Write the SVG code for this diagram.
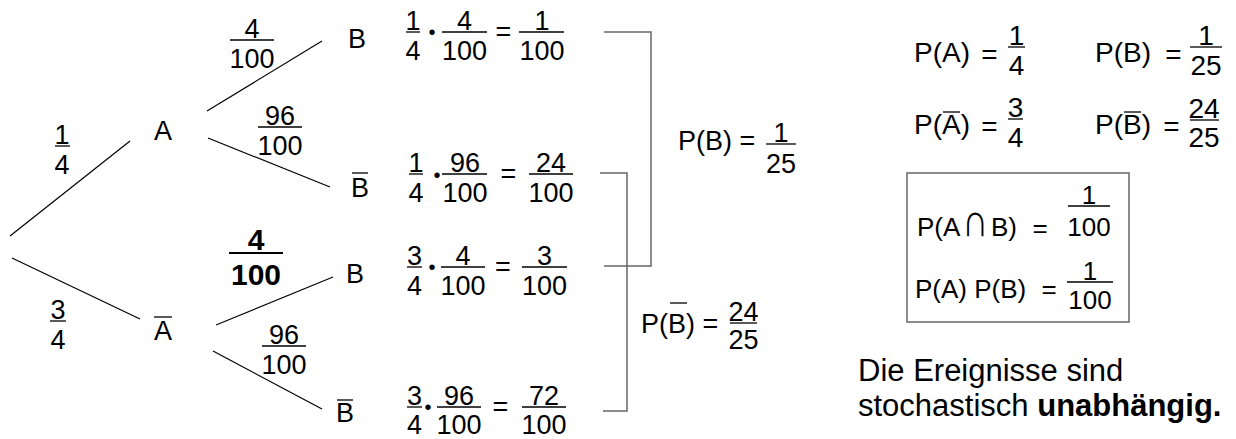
<svg xmlns="http://www.w3.org/2000/svg" width="1236" height="439" viewBox="0 0 1236 439">
  <style>
    text { font-family: "Liberation Sans", Arial, sans-serif; font-size: 27px; fill: #000; }
    .c { text-anchor: middle; }
    .r { font-size: 28px; }
    .bx { font-size: 26px; }
    .big { font-size: 31px; }
    .bold { font-weight: bold; }
    .cap { font-size: 26px; text-anchor: middle; }
    .dot { font-size: 20px; text-anchor: middle; }
    .fr { stroke: #000; stroke-width: 1.3; }
    .edge { stroke: #000; stroke-width: 1.2; fill: none; }
    .brk { stroke: #666; stroke-width: 1.5; fill: none; }
  </style>

  <!-- connectors: tree branches and summing brackets -->
  <g id="connectors">
    <line class="edge" x1="10" y1="236" x2="130" y2="141"/>
    <line class="edge" x1="12" y1="258" x2="140" y2="319"/>
    <line class="edge" x1="207" y1="111" x2="322" y2="41"/>
    <line class="edge" x1="208" y1="138" x2="330" y2="187"/>
    <line class="edge" x1="216" y1="325" x2="333" y2="277"/>
    <line class="edge" x1="213" y1="351" x2="322" y2="409"/>
    <path class="brk" d="M604,32 H651 V266 H604"/>
    <path class="brk" d="M600,173 H627 V411 H603"/>
  </g>

  <!-- branch probabilities -->
  <g id="branch-labels">
    <text class="c" x="62" y="144">1</text><line class="fr" x1="55" y1="146" x2="70" y2="146"/><text class="c" x="62" y="174">4</text>
    <text class="c" x="58" y="319">3</text><line class="fr" x1="50" y1="321" x2="66" y2="321"/><text class="c" x="58" y="349">4</text>
    <text class="c" x="252" y="38">4</text><line class="fr" x1="230" y1="40" x2="274" y2="40"/><text class="c" x="252" y="68">100</text>
    <text class="c" x="280" y="125">96</text><line class="fr" x1="258" y1="127" x2="302" y2="127"/><text class="c" x="280" y="155">100</text>
    <text class="c bold" style="font-size:30px" x="256" y="250">4</text><line class="fr" style="stroke-width:2" x1="229" y1="253" x2="283" y2="253"/><text class="c bold" style="font-size:30px" x="256" y="285">100</text>
    <text class="c" x="284" y="344">96</text><line class="fr" x1="262" y1="346" x2="306" y2="346"/><text class="c" x="284" y="374">100</text>
  </g>

  <!-- event nodes -->
  <g id="node-A"><text class="c" x="163" y="140">A</text></g>
  <g id="node-Abar"><text class="c" x="163" y="340">A</text><line class="fr" x1="154" y1="317" x2="172" y2="317"/></g>
  <g id="node-AB"><text class="c" x="357" y="48">B</text></g>
  <g id="node-ABbar"><text class="c" x="360" y="197">B</text><line class="fr" x1="352" y1="173" x2="368" y2="173"/></g>
  <g id="node-AbarB"><text class="c" x="355" y="283">B</text></g>
  <g id="node-AbarBbar"><text class="c" x="345" y="422">B</text><line class="fr" x1="337" y1="400" x2="353" y2="400"/></g>

  <!-- path products -->
  <g id="product-AB">
    <text class="c" x="413" y="30">1</text><line class="fr" x1="406" y1="32" x2="420" y2="32"/><text class="c" x="413" y="60">4</text>
    <text class="dot" x="432" y="39">•</text>
    <text class="c" x="464.5" y="30">4</text><line class="fr" x1="442" y1="32" x2="487" y2="32"/><text class="c" x="464.5" y="60">100</text>
    <text class="c" x="503.5" y="41">=</text>
    <text class="c" x="542" y="30">1</text><line class="fr" x1="519" y1="32" x2="564" y2="32"/><text class="c" x="542" y="60">100</text>
  </g>
  <g id="product-ABbar">
    <text class="c" x="416" y="172">1</text><line class="fr" x1="409" y1="174" x2="423" y2="174"/><text class="c" x="416" y="202">4</text>
    <text class="dot" x="437" y="182">•</text>
    <text class="c" x="465" y="172">96</text><line class="fr" x1="442" y1="174" x2="487" y2="174"/><text class="c" x="465" y="202">100</text>
    <text class="c" x="508.5" y="183">=</text>
    <text class="c" x="551" y="172">24</text><line class="fr" x1="529" y1="174" x2="573" y2="174"/><text class="c" x="551" y="202">100</text>
  </g>
  <g id="product-AbarB">
    <text class="c" x="414.5" y="265">3</text><line class="fr" x1="407" y1="267" x2="422" y2="267"/><text class="c" x="414.5" y="295">4</text>
    <text class="dot" x="432" y="274">•</text>
    <text class="c" x="463" y="265">4</text><line class="fr" x1="441" y1="267" x2="485" y2="267"/><text class="c" x="463" y="295">100</text>
    <text class="c" x="503" y="276">=</text>
    <text class="c" x="544.5" y="265">3</text><line class="fr" x1="522" y1="267" x2="567" y2="267"/><text class="c" x="544.5" y="295">100</text>
  </g>
  <g id="product-AbarBbar">
    <text class="c" x="414.5" y="405">3</text><line class="fr" x1="407" y1="407" x2="422" y2="407"/><text class="c" x="414.5" y="434">4</text>
    <text class="dot" x="428" y="414">•</text>
    <text class="c" x="459" y="405">96</text><line class="fr" x1="437" y1="407" x2="481" y2="407"/><text class="c" x="459" y="434">100</text>
    <text class="c" x="500.5" y="416">=</text>
    <text class="c" x="544" y="405">72</text><line class="fr" x1="522" y1="407" x2="566" y2="407"/><text class="c" x="544" y="434">100</text>
  </g>

  <!-- totals from the brackets -->
  <g id="sum-B">
    <text x="678" y="150">P(B) =</text>
    <text class="c" x="781" y="142">1</text><line class="fr" x1="766" y1="144" x2="796" y2="144"/><text class="c" x="781" y="173">25</text>
  </g>
  <g id="sum-Bbar">
    <text x="641" y="333">P(B) =</text><line class="fr" x1="670" y1="303" x2="687" y2="303"/>
    <text class="c" x="743.5" y="321">24</text><line class="fr" x1="730" y1="323" x2="757" y2="323"/><text class="c" x="743.5" y="349">25</text>
  </g>

  <!-- marginal probabilities -->
  <g id="marginals">
    <text class="r" x="914" y="62">P(A)</text>
    <text class="r c" x="989.5" y="64">=</text>
    <text class="r c" x="1016.5" y="45">1</text><line class="fr" x1="1008" y1="47" x2="1025" y2="47"/><text class="r c" x="1016.5" y="75">4</text>

    <text class="r" x="1095" y="62">P(B)</text>
    <text class="r c" x="1173.5" y="64">=</text>
    <text class="r c" x="1206" y="45">1</text><line class="fr" x1="1190" y1="47" x2="1222" y2="47"/><text class="r c" x="1206" y="75">25</text>

    <text class="r" x="914" y="134">P(A)</text><line class="fr" x1="943" y1="112" x2="960" y2="112"/>
    <text class="r c" x="989.5" y="136">=</text>
    <text class="r c" x="1015.5" y="117">3</text><line class="fr" x1="1008" y1="119" x2="1023" y2="119"/><text class="r c" x="1015.5" y="147">4</text>

    <text class="r" x="1095" y="134">P(B)</text><line class="fr" x1="1124" y1="112" x2="1141" y2="112"/>
    <text class="r c" x="1171.5" y="136">=</text>
    <text class="r c" x="1204" y="118">24</text><line class="fr" x1="1190" y1="120" x2="1219" y2="120"/><text class="r c" x="1204" y="147">25</text>
  </g>

  <!-- independence check -->
  <g id="check-box">
    <rect class="brk" x="907" y="173" width="222" height="149"/>
    <text class="bx" x="917" y="236">P(A</text>
    <text class="cap" transform="translate(975,236) scale(1.4,1.8)">∩</text>
    <text class="bx" x="991" y="236">B)</text>
    <text class="bx c" x="1040" y="237">=</text>
    <text class="bx c" x="1089" y="204">1</text><line class="fr" x1="1068" y1="206" x2="1110" y2="206"/><text class="bx c" x="1089" y="236">100</text>
    <text class="bx" x="915" y="298">P(A) P(B)</text>
    <text class="bx c" x="1049" y="298">=</text>
    <text class="bx c" x="1090" y="280">1</text><line class="fr" x1="1067" y1="282" x2="1113" y2="282"/><text class="bx c" x="1090" y="309">100</text>
  </g>

  <g id="conclusion">
    <text class="big" x="858" y="381">Die Ereignisse sind</text>
    <text class="big" x="858" y="416">stochastisch <tspan class="bold">unabhängig.</tspan></text>
  </g>
</svg>
